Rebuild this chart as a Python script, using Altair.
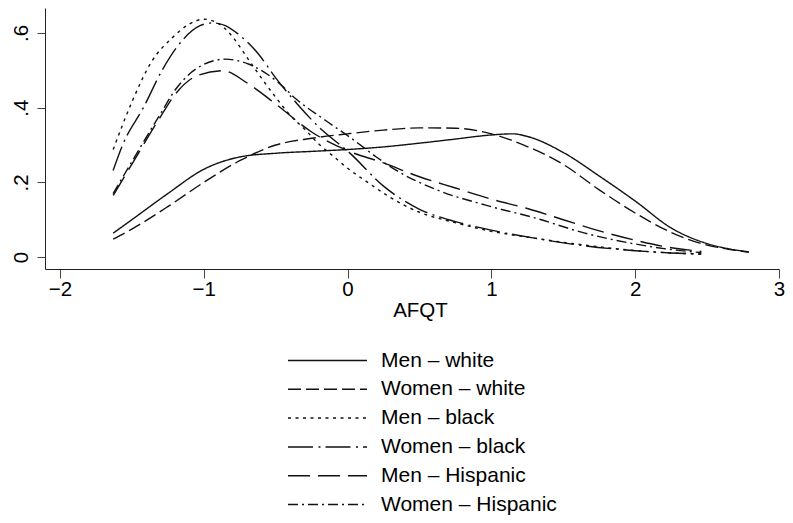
import altair as alt
import pandas as pd

series = ["Men – white", "Women – white", "Men – black",
          "Women – black", "Men – Hispanic", "Women – Hispanic"]

mw_x = [-1.63, -1.5, -1.25, -1.0, -0.75, -0.5, -0.25, 0.0, 0.25, 0.5, 0.75, 1.0,
        1.15, 1.25, 1.5, 1.75, 2.0, 2.25, 2.5, 2.65, 2.79]
mw_y = [0.064, 0.10, 0.17, 0.235, 0.268, 0.278, 0.283, 0.288, 0.295, 0.305, 0.316, 0.327,
        0.330, 0.323, 0.280, 0.217, 0.150, 0.078, 0.036, 0.022, 0.014]

ww_x = [-1.63, -1.5, -1.25, -1.0, -0.75, -0.5, -0.25, 0.0, 0.25, 0.5, 0.75, 1.0,
        1.25, 1.5, 1.75, 2.0, 2.25, 2.5, 2.65, 2.79]
ww_y = [0.048, 0.075, 0.135, 0.200, 0.258, 0.300, 0.318, 0.330, 0.340, 0.346, 0.345, 0.330,
        0.296, 0.248, 0.180, 0.118, 0.066, 0.032, 0.021, 0.013]

mb_x = [-1.63, -1.5, -1.36, -1.22, -1.1, -1.0, -0.9, -0.8, -0.7, -0.6, -0.5, -0.4, -0.3,
        -0.2, -0.09, 0.0, 0.14, 0.275, 0.5, 0.74, 0.96, 1.31, 1.65, 1.95, 2.2, 2.46]
mb_y = [0.288, 0.415, 0.525, 0.587, 0.624, 0.637, 0.626, 0.590, 0.535, 0.480, 0.428, 0.380,
        0.343, 0.303, 0.267, 0.238, 0.200, 0.165, 0.120, 0.093, 0.072, 0.050, 0.032, 0.019,
        0.012, 0.008]

wb_x = [-1.63, -1.56, -1.42, -1.29, -1.15, -1.03, -0.94, -0.85, -0.76, -0.62, -0.5, -0.35,
        -0.21, 0.02, 0.25, 0.5, 0.75, 1.0, 1.31, 1.65, 2.0, 2.25, 2.46]
wb_y = [0.232, 0.304, 0.400, 0.500, 0.580, 0.619, 0.627, 0.620, 0.597, 0.544, 0.480, 0.410,
        0.352, 0.277, 0.190, 0.128, 0.095, 0.072, 0.050, 0.030, 0.017, 0.011, 0.008]

mh_x = [-1.63, -1.49, -1.31, -1.19, -1.05, -0.87, -0.69, -0.5, -0.25, 0.0, 0.25, 0.5,
        0.75, 1.0, 1.25, 1.5, 1.75, 2.0, 2.25, 2.46]
mh_y = [0.165, 0.255, 0.370, 0.440, 0.485, 0.499, 0.464, 0.410, 0.335, 0.285, 0.252, 0.215,
        0.185, 0.155, 0.130, 0.100, 0.070, 0.045, 0.025, 0.015]

wh_x = [-1.63, -1.49, -1.31, -1.19, -1.05, -0.85, -0.69, -0.48, -0.36, -0.15, 0.03, 0.2,
        0.34, 0.62, 0.96, 1.31, 1.65, 2.0, 2.25, 2.46]
wh_y = [0.170, 0.262, 0.378, 0.452, 0.505, 0.530, 0.517, 0.467, 0.424, 0.365, 0.317, 0.268,
        0.232, 0.180, 0.139, 0.104, 0.064, 0.035, 0.020, 0.012]

x_ticks = [-2, -1, 0, 1, 2, 3]
y_ticks = [0, 0.2, 0.4, 0.6]

dashes = [[1, 0], [13, 5], [3, 4.5], [25, 5.5, 2, 5], [22, 8], [10, 4, 2, 4]]

xs = [mw_x, ww_x, mb_x, wb_x, mh_x, wh_x]
ys = [mw_y, ww_y, mb_y, wb_y, mh_y, wh_y]
rows = []
for name, sx, sy in zip(series, xs, ys):
    for a, b in zip(sx, sy):
        rows.append({"series": name, "x": a, "y": b})
df = pd.DataFrame(rows)

FONT = "Liberation Sans"

chart = alt.Chart(df).mark_line(
    interpolate="monotone", strokeWidth=1.4, color="#111"
).encode(
    x=alt.X("x:Q",
            scale=alt.Scale(domain=[-2.104, 3.0], nice=False, zero=False),
            axis=alt.Axis(values=x_ticks, format="d", title="AFQT", grid=False,
                          labelFlush=False, labelOverlap=False, titleX=375, titleAlign="center",
                          tickSize=9, labelPadding=1, titlePadding=1)),
    y=alt.Y("y:Q",
            scale=alt.Scale(domain=[-0.032, 0.667], nice=False, zero=False),
            axis=alt.Axis(values=y_ticks, title=None, grid=False, labelFlush=False,
                          labelExpr="datum.value == 0 ? '0' : replace(format(datum.value, '.1f'), '0.', '.')",
                          labelAngle=270, labelAlign="center", labelBaseline="alphabetic",
                          tickSize=8, labelPadding=10)),
    strokeDash=alt.StrokeDash("series:N",
                              scale=alt.Scale(domain=series, range=dashes),
                              sort=series,
                              legend=alt.Legend(title=None, orient="none", legendX=242, legendY=342,
                                                direction="vertical", symbolType="stroke",
                                                symbolSize=79 * 79, symbolStrokeWidth=1.5,
                                                symbolStrokeColor="#111", labelFont=FONT,
                                                labelFontSize=21, labelColor="#000", labelLimit=0,
                                                labelOffset=13, rowPadding=6.8, clipHeight=21,
                                                padding=0, symbolOffset=0)),
).properties(
    width=734, height=261,
    autosize=alt.AutoSizeParams(type="none"),
    padding={"left": 37, "top": 0, "right": 6, "bottom": 246},
).configure_view(stroke=None).configure_axis(
    domainColor="#222", domainWidth=1, tickColor="#444", tickWidth=1,
    labelFont=FONT, labelFontSize=20.5, labelColor="#000",
    titleFont=FONT, titleFontSize=20.5, titleFontWeight="normal", titleColor="#000",
)

chart.save("out.html", embed_options={"renderer": "svg", "actions": False})
